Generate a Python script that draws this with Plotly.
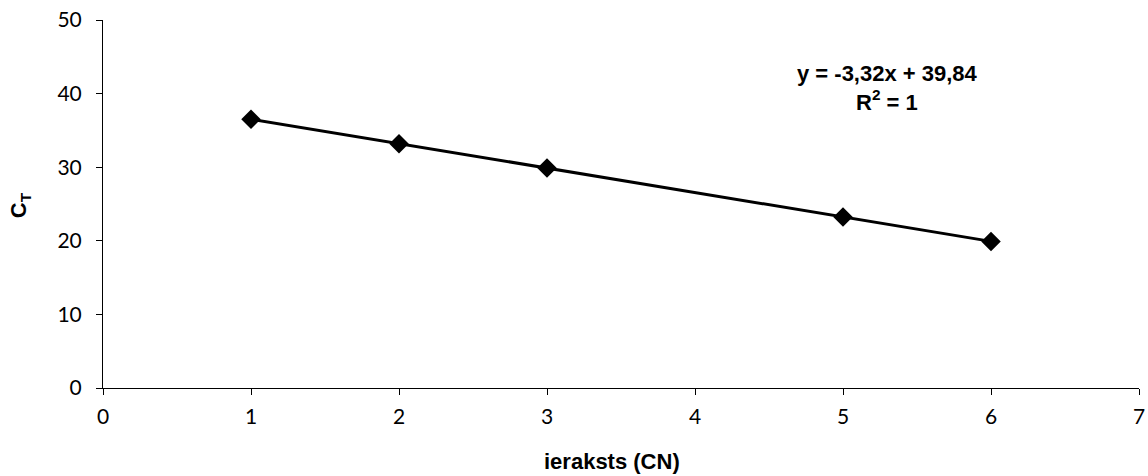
import plotly.graph_objects as go

x_vals = [1, 2, 3, 5, 6]
ct_vals = [36.52, 33.2, 29.88, 23.24, 19.92]
x_ticks = [0, 1, 2, 3, 4, 5, 6, 7]
y_ticks = [0, 10, 20, 30, 40, 50]

tick_font = dict(family="Lato, 'DejaVu Sans', sans-serif", size=21, color="black")
bold_font = "Arial, 'Liberation Sans', sans-serif"

fig = go.Figure()
fig.add_trace(go.Scatter(
    x=x_vals, y=ct_vals, mode="lines+markers",
    line=dict(color="black", width=3),
    marker=dict(symbol="diamond", size=15, color="black"),
    showlegend=False,
))

fig.update_layout(
    width=1148, height=476,
    margin=dict(l=103, r=9, t=20, b=88),
    plot_bgcolor="white", paper_bgcolor="white",
    xaxis=dict(range=[0, 7], tickvals=x_ticks, showgrid=False, zeroline=False,
               showline=True, linecolor="black", linewidth=1, automargin=False,
               ticks="outside", ticklen=6, tickcolor="black", tickfont=tick_font,
               ticklabelstandoff=4),
    yaxis=dict(range=[0, 50], tickvals=y_ticks, showgrid=False, zeroline=False,
               showline=True, linecolor="black", linewidth=1, automargin=False,
               ticks="outside", ticklen=6, tickcolor="black", tickfont=tick_font,
               ticklabelstandoff=10),
    annotations=[
        dict(text="<b>ieraksts (CN)</b>", xref="paper", yref="paper", x=0.491, y=-0.201,
             showarrow=False, font=dict(family=bold_font, size=22, color="black"),
             xanchor="center", yanchor="middle"),
        dict(text="<b>C<sub>T</sub></b>", xref="paper", yref="paper", x=-0.080, y=0.497,
             showarrow=False, textangle=-90,
             font=dict(family=bold_font, size=22, color="black"),
             xanchor="center", yanchor="middle"),
        dict(text="<b>y = -3,32x + 39,84<br>R<sup>2</sup> = 1</b>", xref="x", yref="y",
             x=5.30, y=40.8, showarrow=False, align="center",
             font=dict(family=bold_font, size=22, color="black"),
             xanchor="center", yanchor="middle"),
    ],
)

fig.write_html("out.html")
